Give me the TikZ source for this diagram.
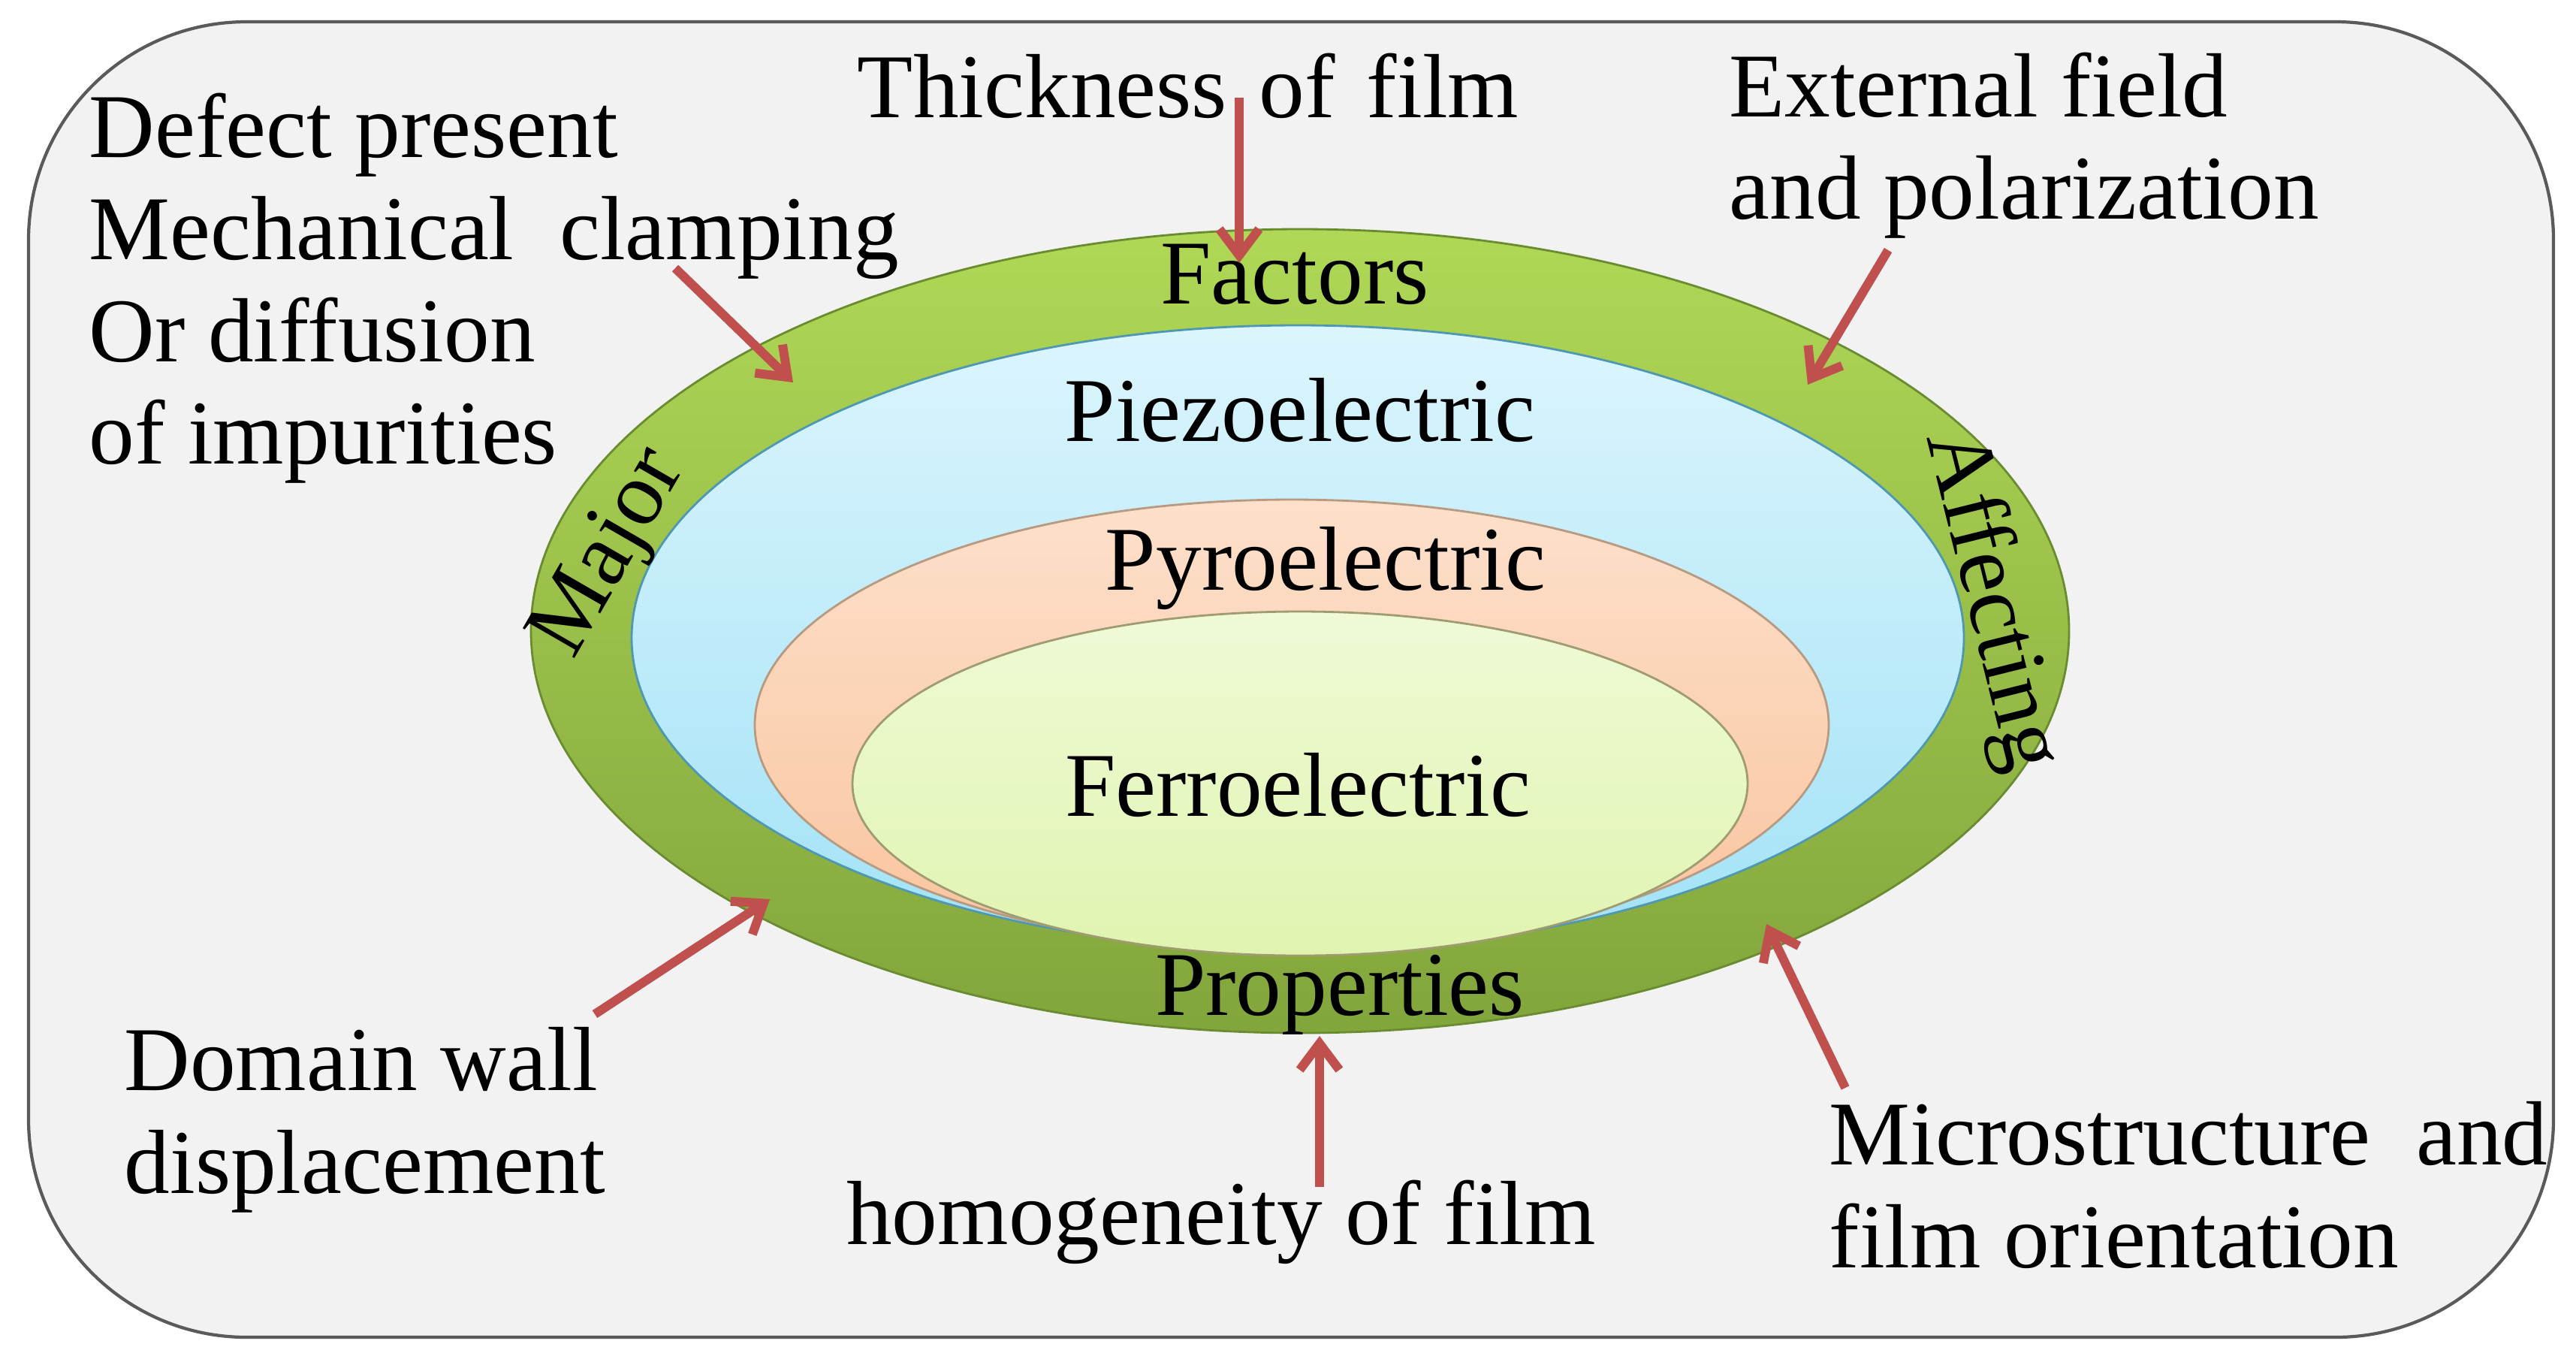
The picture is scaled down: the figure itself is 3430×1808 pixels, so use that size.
\documentclass[tikz,border=0pt]{standalone}
\usepackage{fontspec}
\setmainfont{Liberation Serif}
\usetikzlibrary{arrows.meta}
\definecolor{boxfill}{HTML}{F2F2F2}
\definecolor{framegray}{HTML}{5A5A5A}
\definecolor{ringtop}{HTML}{B0D856}
\definecolor{ringbot}{HTML}{82A53C}
\definecolor{ringline}{HTML}{6A8C30}
\definecolor{piezotop}{HTML}{DCF5FD}
\definecolor{piezobot}{HTML}{A2E2F6}
\definecolor{piezoline}{HTML}{4E98B2}
\definecolor{pyrotop}{HTML}{FDE0CB}
\definecolor{pyrobot}{HTML}{F9C49E}
\definecolor{pyroline}{HTML}{B89A80}
\definecolor{ferrotop}{HTML}{EFFAD6}
\definecolor{ferrobot}{HTML}{E0F4B0}
\definecolor{ferroline}{HTML}{A09C72}
\definecolor{arrowred}{HTML}{C0504D}
\begin{document}
\begin{tikzpicture}[x=0.01cm,y=-0.01cm,
  lbl/.style={inner sep=0pt,font=\fontsize{34.5}{38.7}\selectfont},
  ptr/.style={draw=arrowred,line width=3.4pt,-{Straight Barb[length=10pt,width=15pt]}}]
\useasboundingbox (0,0) rectangle (3430,1808);
% frame
\draw[line width=1.2pt,draw=framegray,fill=boxfill,rounded corners=2.9cm] (38,29) rectangle (3400,1780);
% nested ellipses
\shade[top color=ringtop,bottom color=ringbot,draw=ringline,line width=0.8pt] (1731,840) ellipse [x radius=1024,y radius=535];
\shade[top color=piezotop,bottom color=piezobot,draw=piezoline,line width=0.8pt] (1728,849) ellipse [x radius=887,y radius=416];
\shade[top color=pyrotop,bottom color=pyrobot,draw=pyroline,line width=0.8pt] (1720,965) ellipse [x radius=715,y radius=300];
\shade[top color=ferrotop,bottom color=ferrobot,draw=ferroline,line width=0.8pt] (1731,1043) ellipse [x radius=596,y radius=229];
% ring and inner labels
\node[lbl,anchor=base] (factors) at (1724,404) {Factors};
\node[lbl,anchor=base] (properties) at (1784,1351) {Properties};
\node[lbl,rotate=60] (major) at (814,737) {Major};
\node[lbl,rotate=-76] (affecting) at (2650,800) {Affecting};
\node[lbl,anchor=base] (piezo) at (1731,587) {Piezoelectric};
\node[lbl,anchor=base] (pyro) at (1765,785) {Pyroelectric};
\node[lbl,anchor=base] (ferro) at (1728,1086) {Ferroelectric};
% outside factors
\node[lbl,anchor=north west,align=left] (defects) at (118,123) {Defect present\\Mechanical~ clamping\\Or diffusion\\of impurities};
\node[lbl,anchor=base] (thickness) at (1582,156) {Thickness\hspace{0.1em} of\hspace{0.1em} film};
\node[lbl,anchor=north west,align=left] (external) at (2302,69) {External field\\and polarization};
\node[lbl,anchor=north west,align=left] (domain) at (165,1367) {Domain wall\\displacement};
\node[lbl,anchor=base] (homog) at (1626,1656) {homogeneity of film};
\node[lbl,anchor=north west,align=left] (micro) at (2435,1466) {Microstructure~ and\\film orientation};
% arrow ends
\coordinate (thick-s) at (1650,130);
\coordinate (thick-e) at (1650,350);
\coordinate (clamp-s) at (899,357);
\coordinate (clamp-e) at (1056,509);
\coordinate (ext-s) at (2514,333);
\coordinate (ext-e) at (2407,512);
\coordinate (dom-s) at (792,1350);
\coordinate (dom-e) at (1025,1197);
\coordinate (hom-s) at (1757,1580);
\coordinate (hom-e) at (1757,1379);
\coordinate (mic-s) at (2457,1448);
\coordinate (mic-e) at (2352,1230);
\draw[ptr] (thick-s) -- (thick-e);
\draw[ptr] (clamp-s) -- (clamp-e);
\draw[ptr] (ext-s) -- (ext-e);
\draw[ptr] (dom-s) -- (dom-e);
\draw[ptr] (hom-s) -- (hom-e);
\draw[ptr] (mic-s) -- (mic-e);
\end{tikzpicture}
\end{document}
